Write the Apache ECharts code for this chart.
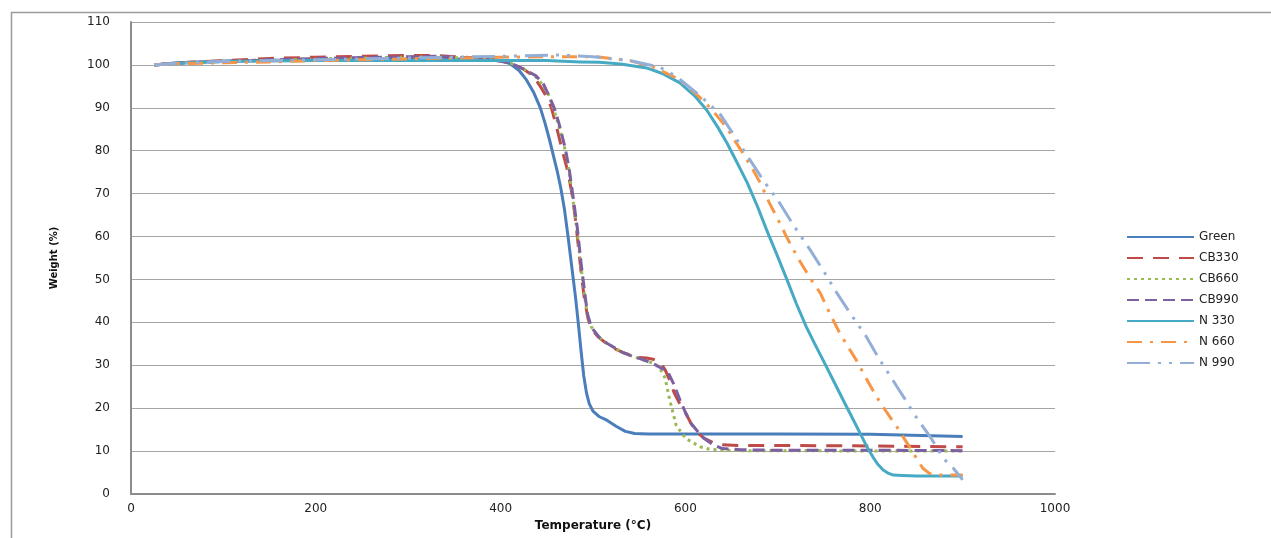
<!DOCTYPE html>
<html>
<head>
<meta charset="utf-8">
<script src="https://cdn.jsdelivr.net/npm/echarts@6/dist/echarts.min.js"></script>
<style>
html,body{margin:0;padding:0;background:#fff;}
#chart{width:1271px;height:538px;}
</style>
</head>
<body>
<div id="chart"></div>
<script>
// ---- Data (Temperature °C, Weight %) ----
const seriesNames = ['Green', 'CB330', 'CB660', 'CB990', 'N 330', 'N 660', 'N 990'];
const xTicks = [0, 200, 400, 600, 800, 1000];
const yTicks = [0, 10, 20, 30, 40, 50, 60, 70, 80, 90, 100, 110];

const greenT = [25,50,100,200,300,380,400,410,420,428,436,443,448,453,457,461,465,469,473,477,481,484,487,490,493,496,500,507,515,525,535,545,560,600,700,800,900];
const greenW = [100,100.5,100.9,101.2,101.4,101.3,101,100.3,98.7,96.5,93.5,90,86.5,82.5,79,75.5,71.5,66.5,60,53,46,40,33.5,27.5,23.5,21,19.3,18,17.2,15.8,14.6,14.1,14,14,14,13.9,13.4];

const cb330T = [25,50,100,150,200,250,300,330,360,390,410,425,435,443,450,455,460,464,468,473,478,481,484,488,491,495,500,506,514,522,532,540,550,558,565,572,578,583,588,594,600,606,612,620,630,640,660,700,800,900];
const cb330W = [100,100.5,101,101.5,101.8,102,102.2,102.2,101.8,101.3,100.5,99,97.5,95,92.5,90,86,82.5,79,75,69,64,58,50,45,40.5,38,36.5,35.2,34,33,32.4,31.8,31.7,31.4,30.8,29,26.5,23.5,21,19,16.5,14.5,13,12,11.5,11.3,11.3,11.2,11];

const cb660T = [25,50,100,150,200,250,300,330,360,390,410,425,437,445,452,457,462,466,470,474,478,483,487,491,494,498,503,509,516,524,532,540,550,558,565,572,578,583,590,600,608,616,625,640,660,700,800,900];
const cb660W = [100,100.4,100.8,101.1,101.4,101.6,101.8,101.9,101.6,101.2,100.5,99,97.5,95.5,93,90,86.5,83.5,80,75.5,69,61,53,46,41.5,39,37.5,36,35,34,33,32.3,31.6,31,30.5,29.5,27,22,16,13,12,11,10.5,10.2,10.1,10.1,10,10];

const cb990T = [25,50,100,150,200,250,300,330,360,390,410,425,438,446,452,458,463,466,470,474,478,483,487,491,494,498,503,509,516,524,532,540,550,558,566,574,580,587,594,600,606,612,620,630,640,660,700,800,900];
const cb990W = [100,100.4,100.8,101.2,101.5,101.7,101.9,102,101.7,101.2,100.5,99,97.5,95.7,93,90,86.5,84,80.5,76,70,62,54,47,42,39,37.5,36,35,34,33,32.3,31.6,31,30.3,29.3,28.9,25.8,22,19,16.5,14.9,13,11.5,10.6,10.3,10.2,10.2,10.1];

const n330T = [25,50,100,200,300,400,450,486,507,530,558,575,594,610,623,635,645,656,667,678,688,699,710,720,731,740,749,760,771,780,789,796,803,808,814,820,825,835,850,900];
const n330W = [100,100.4,100.8,101,101,101,101,100.7,100.6,100.2,99.3,98,95.8,92.8,89.5,85.5,81.8,77.2,72.5,67,61.5,55.8,49.9,44.4,38.9,35,31.2,26.5,21.8,18,14.2,11.2,8.6,7,5.6,4.8,4.4,4.3,4.2,4.2];

const n660T = [25,50,100,150,200,250,300,350,400,450,504,540,565,591,605,619,632,645,653,662,672,681,691,702,711,721,733,746,756,767,776,785,796,807,818,829,838,847,852,857,864,872,900];
const n660W = [100,100.3,100.5,100.7,101,101.2,101.4,101.6,101.8,101.9,101.9,101,99.5,96.9,94.5,91.8,88.7,85.3,82.5,79.5,76,72.5,67.8,63.2,59.3,55.3,51,46.8,42.2,37.5,34.3,31.2,26.8,22.6,19,15.6,12.5,9.5,7.6,6,4.8,4.4,4.4];

const n990T = [25,50,100,200,300,400,464,500,540,572,591,612,637,653,670,686,702,718,735,750,764,780,796,805,814,822,829,838,847,856,865,872,879,885,890,900];
const n990W = [100,100.4,100.8,101.2,101.6,102,102.3,101.9,101,99.5,97.2,93.5,88.7,83.5,77.8,72.6,67.8,62.3,56.9,51.8,46.8,41.6,36.6,33.2,30,27.4,25,22,18.8,16,13.3,10.9,8.4,7,6,3.3];

// ---- Build chart ----
function pairs(t, w) { return t.map((v, i) => [v, w[i]]); }
const dataSets = [
  pairs(greenT, greenW), pairs(cb330T, cb330W), pairs(cb660T, cb660W), pairs(cb990T, cb990W),
  pairs(n330T, n330W), pairs(n660T, n660W), pairs(n990T, n990W)
];
const colors = ['#4A7EBB', '#BE4B48', '#98B954', '#7D60A0', '#46AAC4', '#F79646', '#93AFD8'];
const dashes = ['solid', [16, 10], [3, 4], [12, 6], 'solid', [15, 8, 3, 8], [23, 8, 3, 8, 3, 8]];

const chart = echarts.init(document.getElementById('chart'), null, { renderer: 'canvas' });
const font = 'DejaVu Sans';
chart.setOption({
  animation: false,
  backgroundColor: '#ffffff',
  graphic: [{
    type: 'rect', left: 9, top: 10, z: -1, silent: true,
    shape: { width: 1300, height: 600 },
    style: { fill: 'none', stroke: '#9a9a9a', lineWidth: 1.5 }
  }],
  grid: { left: 131, right: 216, top: 22, bottom: 44, containLabel: false },
  legend: {
    orient: 'vertical', left: 1121, top: 226,
    itemWidth: 67, itemHeight: 12, itemGap: 9,
    itemStyle: { opacity: 0 },
    textStyle: { fontFamily: font, fontSize: 12, color: '#222' },
    data: seriesNames
  },
  xAxis: {
    type: 'value', min: xTicks[0], max: xTicks[xTicks.length - 1], interval: 200,
    name: 'Temperature (°C)', nameLocation: 'middle', nameGap: 24,
    nameTextStyle: { fontFamily: font, fontWeight: 'bold', fontSize: 12, color: '#111' },
    axisLine: { show: true, lineStyle: { color: '#8c8c8c', width: 2 } },
    axisTick: { show: false },
    splitLine: { show: false },
    axisLabel: { fontFamily: font, fontSize: 12, color: '#222', margin: 9, formatter: v => String(v) }
  },
  yAxis: {
    type: 'value', min: yTicks[0], max: yTicks[yTicks.length - 1], interval: 10,
    name: 'Weight (%)', nameLocation: 'middle', nameGap: 72, nameRotate: 90,
    nameTextStyle: { fontFamily: font, fontWeight: 'bold', fontSize: 10, color: '#111' },
    axisLine: { show: true, lineStyle: { color: '#8c8c8c', width: 2 } },
    axisTick: { show: false },
    splitLine: { show: true, lineStyle: { color: '#a6a6a6', width: 1 } },
    axisLabel: { fontFamily: font, fontSize: 12, color: '#222', margin: 21, formatter: v => String(v) }
  },
  series: seriesNames.map((name, i) => ({
    name: name,
    type: 'line',
    data: dataSets[i],
    showSymbol: false,
    symbol: 'none',
    smooth: false,
    color: colors[i],
    lineStyle: { color: colors[i], width: 3, type: dashes[i], cap: 'butt', join: 'round' }
  }))
});
</script>
</body>
</html>
